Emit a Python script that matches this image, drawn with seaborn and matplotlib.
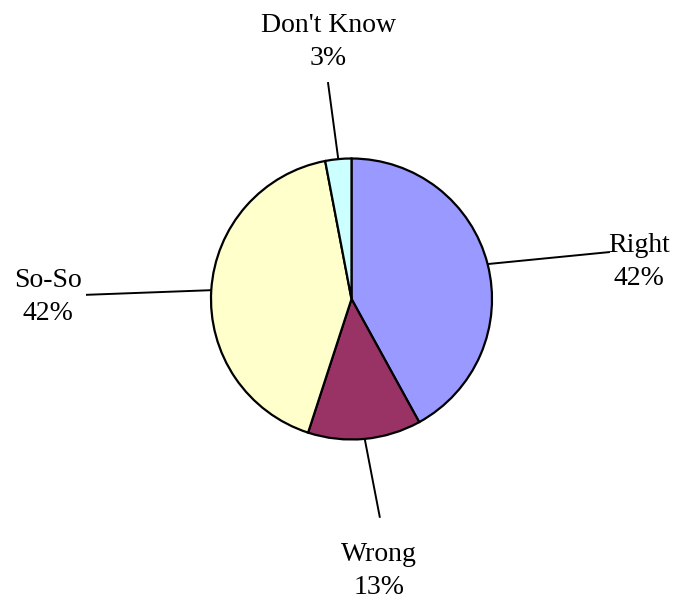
import numpy as np
import matplotlib
matplotlib.use("Agg")
import matplotlib.pyplot as plt
import seaborn as sns

# data
labels = ["Right", "Wrong", "So-So", "Don't Know"]
shares = [42, 13, 42, 3]
colors = ["#9999FF", "#993366", "#FFFFCC", "#CCFFFF"]

# layout of leader lines / labels (pie radius = 1)
line_end_r = [1.87, 1.57, 1.89, 1.553]
line_end_deg = [10.3, -82.6, 179.1, 96.2]
label_xy = [(2.046, 0.263), (0.196, -1.936), (-2.16, 0.014), (-0.167, 1.829)]

sns.set_theme(style="white")
plt.rcParams["font.family"] = ["Liberation Serif", "DejaVu Serif"]

fig = plt.figure(figsize=(6.74, 6.03), dpi=100)
ax = fig.add_axes([0, 0, 1, 1])

wedges, _ = ax.pie(shares, colors=colors, startangle=90, counterclock=False,
                   radius=1, wedgeprops=dict(edgecolor="black", linewidth=1.6))

for w, lab, val, r, deg, (lx, ly) in zip(wedges, labels, shares, line_end_r,
                                        line_end_deg, label_xy):
    mid = np.deg2rad((w.theta1 + w.theta2) / 2)
    sx, sy = np.cos(mid), np.sin(mid)
    ex, ey = r * np.cos(np.deg2rad(deg)), r * np.sin(np.deg2rad(deg))
    ax.plot([sx, ex], [sy, ey], color="black", lw=1.4, solid_capstyle="butt")
    ax.text(lx, ly, f"{lab}\n{val}%", ha="center", va="center",
            fontsize=20, linespacing=1.45, color="black")

ax.set_xlim(-351.5 / 140.5, (674 - 351.5) / 140.5)
ax.set_ylim(-(603 - 299) / 140.5, 299 / 140.5)
ax.set_aspect("equal")
ax.axis("off")

fig.savefig("out.png", dpi=100, facecolor="white")
